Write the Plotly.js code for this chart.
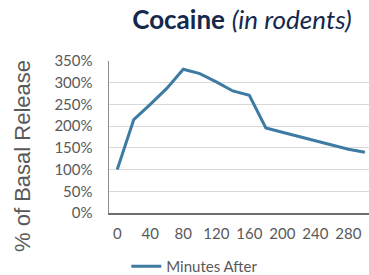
<!DOCTYPE html>
<html><head><meta charset="utf-8">
<script src="https://cdn.plot.ly/plotly-3.0.1.min.js"></script>
<style>body{margin:0;background:#fff}#c{width:369px;height:275px}</style>
</head><body><div id="c"></div>
<script>
const minutes = [0,20,40,60,80,100,120,140,160,180,200,220,240,260,280,300];
const basalRelease = [100,215,250,287,331,321,302,281,271,196,186,176,166,156,147,140];
const xTicks = [0,40,80,120,160,200,240,280];
const yTicks = [0,50,100,150,200,250,300,350];
const seriesName = 'Minutes After';
const yTitle = '% of Basal Release';

Plotly.newPlot('c', [{
  x: minutes, y: basalRelease, type: 'scatter', mode: 'lines', name: seriesName,
  line: {color: '#3e7ba3', width: 3}
}], {
  width: 369, height: 275,
  margin: {l: 109, r: 0, t: 61, b: 62, autoexpand: false},
  paper_bgcolor: '#fff', plot_bgcolor: '#fff',
  title: {
    text: '<b>Cocaine</b> <i>(in rodents)</i>',
    font: {family: 'Lato', size: 26, color: '#14284b'},
    x: 242/369, xanchor: 'center', y: 1 - 20/275, yanchor: 'middle'
  },
  xaxis: {
    range: [-10, 305], tickvals: xTicks, ticktext: xTicks.map(String),
    showgrid: false, zeroline: false, showline: true, linecolor: '#6e6e6e', linewidth: 1.5,
    ticks: '', ticklabelstandoff: 6, tickfont: {family: 'Lato', size: 15, color: '#595959'}
  },
  yaxis: {
    range: [0, 350], tickvals: yTicks, ticktext: yTicks.map(v => v + '%'),
    showgrid: true, gridcolor: '#d9d9d9', gridwidth: 1, zeroline: false,
    showline: true, linecolor: '#8c8c8c', linewidth: 1.5, ticks: '', ticklabelstandoff: 12,
    tickfont: {family: 'Lato', size: 15, color: '#595959'}
  },
  annotations: [{
    text: yTitle, textangle: -90, xref: 'paper', yref: 'paper',
    x: (22 - 109) / 260, y: (213 - 156) / 152, xanchor: 'center', yanchor: 'middle',
    showarrow: false, font: {family: 'Liberation Sans', size: 22, color: '#595959'}
  }],
  showlegend: true,
  legend: {orientation: 'h', x: 0.33, xanchor: 'center', y: -0.243, yanchor: 'top',
    font: {family: 'Lato', size: 15, color: '#595959'}}
}, {displayModeBar: false, staticPlot: true});
</script></body></html>
